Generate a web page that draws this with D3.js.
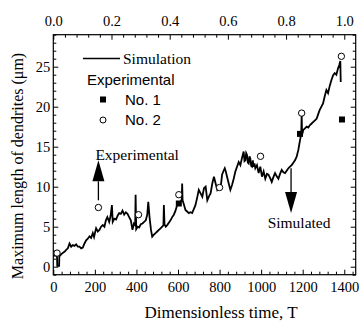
<!DOCTYPE html>
<meta charset="utf-8">
<style>
    body { margin: 0; background: #fff; }
    svg { display: block; }
    text { fill: #000; }
    .serif { font-family: "Liberation Serif", "Times New Roman", serif; }
    .sans { font-family: "Liberation Sans", Arial, sans-serif; }
    .axis text { font-family: "Liberation Serif", "Times New Roman", serif; font-size: 14.5px; }
    .axis line { stroke: #000; stroke-width: 1; }
</style>
<svg width="359" height="325"></svg>
<script src="https://d3js.org/d3.v7.min.js"></script>
<script>
    // simulation trace (time T, max length in um)
    var simT = [0, 10, 18, 19, 28, 29, 40, 55, 62, 70, 78, 86, 94, 102, 110, 118, 126, 134, 142, 150,
        158, 166, 174, 182, 190, 196, 202, 206, 214, 222, 230, 238, 246, 253, 260, 269, 276, 282, 286, 294,
        302, 310, 317, 325, 333, 341, 349, 357, 365, 373, 381, 388, 394, 396, 399, 406, 413, 421, 429, 437,
        445, 452, 457, 463, 470, 476, 484, 492, 500, 508, 516, 524, 530, 532, 535, 541, 548, 556, 564, 572,
        580, 588, 596, 604, 612, 618, 620, 622, 628, 636, 644, 652, 660, 668, 676, 684, 692, 700, 708, 717,
        725, 733, 741, 749, 757, 765, 773, 781, 789, 797, 805, 812, 818, 825, 830, 836, 844, 852, 860, 868,
        876, 884, 892, 900, 908, 916, 920, 924, 928, 932, 936, 940, 944, 948, 952, 956, 960, 964, 968, 972,
        980, 988, 996, 1004, 1012, 1020, 1028, 1035, 1043, 1051, 1059, 1067, 1075, 1083, 1091, 1099, 1107, 1115, 1123, 1131,
        1139, 1147, 1155, 1163, 1171, 1179, 1187, 1193, 1195, 1197, 1203, 1211, 1219, 1227, 1235, 1243, 1251, 1259, 1267, 1275,
        1282, 1290, 1298, 1306, 1314, 1322, 1330, 1338, 1346, 1354, 1362, 1370, 1376, 1381, 1383];
    var simL = [1.3, 1.5, 1.2, 0.1, 0.1, 1.3, 1.6, 1.9, 2.1, 2.3, 2.9, 2.5, 2.7, 2.6, 2.8, 2.5, 2.5, 2.3, 2.4, 2.9,
        3.3, 3.5, 3.8, 3.6, 4.2, 3.7, 4.4, 4.8, 4.4, 4.6, 5.0, 5.2, 5.0, 5.8, 6.2, 5.6, 6.4, 7.7, 5.6, 6.0,
        5.9, 6.4, 6.7, 6.6, 7.0, 6.5, 6.8, 6.6, 6.2, 5.8, 4.6, 5.4, 5.2, 9.0, 4.7, 5.0, 4.9, 5.3, 5.4, 5.6,
        5.8, 6.5, 8.1, 6.2, 4.6, 3.75, 4.0, 4.2, 4.4, 4.6, 4.8, 5.0, 5.2, 7.7, 5.3, 5.0, 5.2, 5.5, 5.8, 6.2,
        6.5, 7.0, 7.7, 7.9, 8.1, 8.4, 10.4, 8.3, 7.8, 7.1, 6.9, 6.7, 6.8, 6.7, 7.2, 7.7, 8.6, 9.6, 9.2, 8.75,
        9.8, 10.0, 8.3, 8.8, 9.2, 10.4, 11.25, 10.4, 9.6, 9.9, 9.8, 11.5, 11.9, 12.3, 11.9, 11.25, 10.4, 9.6, 10.2, 11.0,
        11.9, 12.5, 13.1, 12.7, 13.6, 14.4, 13.2, 13.3, 14.2, 13.96, 13.0, 12.9, 13.8, 13.5, 12.6, 12.5, 13.3, 12.5, 12.9, 12.3,
        12.7, 11.7, 12.5, 11.25, 11.9, 11.0, 11.6, 11.5, 11.1, 10.6, 11.2, 11.7, 11.3, 11.0, 11.6, 12.1, 11.8, 11.7, 12.0, 12.3,
        12.5, 12.7, 13.0, 13.3, 13.75, 14.6, 15.8, 16.7, 19.0, 16.5, 17.1, 17.3, 17.5, 17.4, 17.7, 17.9, 18.1, 18.3, 18.5, 19.1,
        19.6, 20.0, 20.4, 21.3, 22.1, 21.7, 22.6, 23.3, 23.9, 24.2, 24.0, 24.8, 25.2, 25.7, 23.1];

    // experimental points
    var no1T = [604, 1187, 1389];
    var no1L = [7.9, 16.6, 18.4];
    var no2T = [18, 217, 410, 604, 800, 997, 1195, 1386];
    var no2L = [1.7, 7.4, 6.5, 9.0, 9.9, 13.8, 19.2, 26.3];

    var xTicks = [0, 200, 400, 600, 800, 1000, 1200, 1400];
    var topTicks = [0.0, 0.2, 0.4, 0.6, 0.8, 1.0];
    var yTicks = [0, 5, 10, 15, 20, 25];

    // arrows: [T, from L, to L]
    var arrowUp = [217, 8.3, 13.3];
    var arrowDown = [1144, 12.3, 6.7];

    var svg = d3.select("svg");
    var pLeft = 53.3, pRight = 355.7, pTop = 34.7, pBottom = 274.7;
    var xMax = 1455;

    var x = d3.scaleLinear().domain([0, xMax]).range([pLeft, pRight]);
    var xTop = d3.scaleLinear().domain([0, xMax / 1400]).range([pLeft, pRight]);
    var y = d3.scaleLinear().domain([-1, 29]).range([pBottom, pTop]);

    var xMinor = d3.range(0, xMax, 40).filter(function (v) { return v % 200 != 0; });
    var topMinor = d3.range(0, 1.03, 0.04).filter(function (v) { return Math.abs(v * 5 - Math.round(v * 5)) > 1e-6; });
    var yMinor = d3.range(-1, 29.5, 1).filter(function (v) { return v % 5 != 0; });

    function addAxis(axis, tx, ty) {
        var g = svg.append("g").attr("class", "axis")
            .attr("transform", "translate(" + tx + "," + ty + ")")
            .call(axis);
        g.select(".domain").remove();
        return g;
    }

    addAxis(d3.axisBottom(x).tickValues(xTicks).tickSize(-5).tickPadding(7).tickFormat(d3.format("d")), 0, pBottom);
    addAxis(d3.axisBottom(x).tickValues(xMinor).tickSize(-3).tickFormat(""), 0, pBottom);
    addAxis(d3.axisTop(xTop).tickValues(topTicks).tickSize(-5).tickPadding(9).tickFormat(d3.format(".1f")), 0, pTop);
    addAxis(d3.axisTop(xTop).tickValues(topMinor).tickSize(-3).tickFormat(""), 0, pTop);
    addAxis(d3.axisLeft(y).tickValues(yTicks).tickSize(-5).tickPadding(3), pLeft, 0);
    addAxis(d3.axisLeft(y).tickValues(yMinor).tickSize(-3).tickFormat(""), pLeft, 0);
    addAxis(d3.axisRight(y).tickValues(yTicks).tickSize(-5).tickFormat(""), pRight, 0);
    addAxis(d3.axisRight(y).tickValues(yMinor).tickSize(-3).tickFormat(""), pRight, 0);

    svg.append("rect")
        .attr("x", pLeft).attr("y", pTop)
        .attr("width", pRight - pLeft).attr("height", pBottom - pTop)
        .attr("fill", "none").attr("stroke", "#000").attr("stroke-width", 1.2);

    // simulation line
    var line = d3.line()
        .x(function (d, i) { return x(simT[i]); })
        .y(function (d, i) { return y(simL[i]); });

    svg.append("path")
        .attr("d", line(simT))
        .attr("fill", "none")
        .attr("stroke", "#000")
        .attr("stroke-width", 1.8)
        .attr("stroke-linejoin", "miter");

    // No. 1 filled squares
    svg.selectAll(".sq").data(no1T).enter().append("rect")
        .attr("x", function (d) { return x(d) - 3; })
        .attr("y", function (d, i) { return y(no1L[i]) - 3; })
        .attr("width", 6).attr("height", 6)
        .attr("fill", "#000");

    // No. 2 open circles
    svg.selectAll(".ci").data(no2T).enter().append("circle")
        .attr("cx", function (d) { return x(d); })
        .attr("cy", function (d, i) { return y(no2L[i]); })
        .attr("r", 3.2)
        .attr("fill", "#fff")
        .attr("stroke", "#000")
        .attr("stroke-width", 1);

    // arrows
    function arrow(a) {
        var ax = x(a[0]), y0 = y(a[1]), y1 = y(a[2]);
        var dir = y1 < y0 ? 1 : -1;
        var headLen = 21;
        svg.append("line")
            .attr("x1", ax).attr("x2", ax)
            .attr("y1", y0).attr("y2", y1 + dir * headLen)
            .attr("stroke", "#000").attr("stroke-width", 1.3);
        svg.append("path")
            .attr("d", "M" + (ax - 6) + "," + (y1 + dir * headLen) + "L" + (ax + 6) + "," + (y1 + dir * headLen) + "L" + ax + "," + y1 + "Z")
            .attr("fill", "#000");
    }
    arrow(arrowUp);
    arrow(arrowDown);

    svg.append("text").attr("class", "serif")
        .attr("x", x(arrowUp[0]) - 3).attr("y", y(arrowUp[2]))
        .attr("font-size", 15.5)
        .text("Experimental");

    svg.append("text").attr("class", "serif")
        .attr("x", x(arrowDown[0]) + 8).attr("y", y(arrowDown[2]) + 15)
        .attr("text-anchor", "middle")
        .attr("font-size", 15.5)
        .text("Simulated");

    // legend
    var leg = svg.append("g").attr("transform", "translate(83,0)");
    leg.append("line").attr("x1", 0).attr("x2", 37).attr("y1", 58.5).attr("y2", 58.5)
        .attr("stroke", "#000").attr("stroke-width", 1.3);
    leg.append("text").attr("class", "serif").attr("x", 40).attr("y", 63.5)
        .attr("font-size", 15.5).text("Simulation");
    leg.append("text").attr("class", "sans").attr("x", 4).attr("y", 85)
        .attr("font-size", 15).text("Experimental");
    leg.append("rect").attr("x", 17).attr("y", 96.5).attr("width", 6).attr("height", 6).attr("fill", "#000");
    leg.append("text").attr("class", "sans").attr("x", 42).attr("y", 105)
        .attr("font-size", 15).text("No. 1");
    leg.append("circle").attr("cx", 20).attr("cy", 120).attr("r", 3)
        .attr("fill", "#fff").attr("stroke", "#000");
    leg.append("text").attr("class", "sans").attr("x", 42).attr("y", 125)
        .attr("font-size", 15).text("No. 2");

    // axis titles
    svg.append("text").attr("class", "serif")
        .attr("x", 221).attr("y", 318)
        .attr("text-anchor", "middle")
        .attr("font-size", 17)
        .text("Dimensionless time, T");

    svg.append("text").attr("class", "serif")
        .attr("transform", "translate(23,166) rotate(-90)")
        .attr("text-anchor", "middle")
        .attr("font-size", 16)
        .text("Maximum length of dendrites (\u03bcm)");
</script>
